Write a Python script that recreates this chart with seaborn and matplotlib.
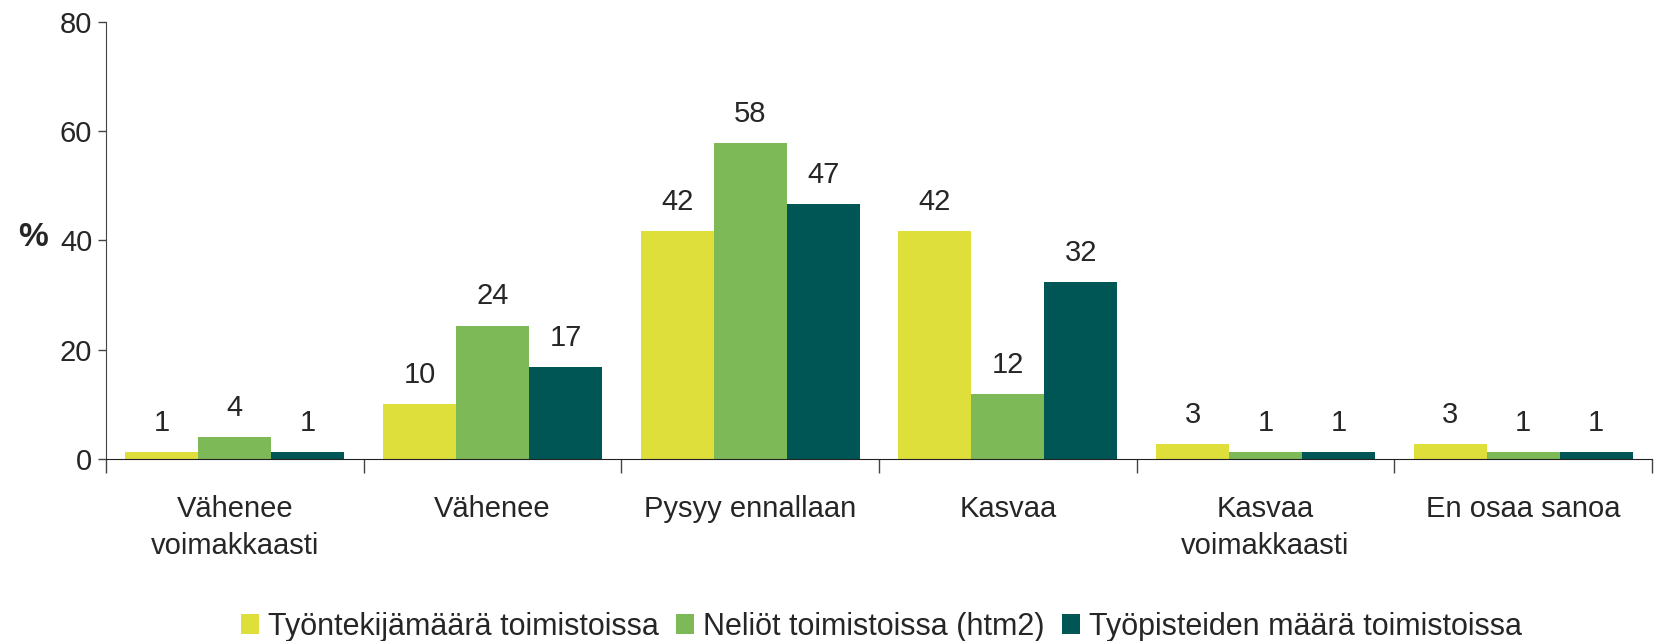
import pandas as pd
import matplotlib.pyplot as plt
import seaborn as sns
from matplotlib.ticker import FixedLocator

categories = ["Vähenee\nvoimakkaasti", "Vähenee", "Pysyy ennallaan", "Kasvaa",
              "Kasvaa\nvoimakkaasti", "En osaa sanoa"]
series = ["Työntekijämäärä toimistoissa", "Neliöt toimistoissa (htm2)",
          "Työpisteiden määrä toimistoissa"]
tyontekijat = [1.3, 10.0, 41.7, 41.7, 2.7, 2.7]
neliot = [4.0, 24.4, 57.8, 11.8, 1.3, 1.3]
tyopisteet = [1.3, 16.8, 46.6, 32.4, 1.3, 1.3]
colors = ["#dfdf3b", "#7db957", "#005555"]

df = pd.DataFrame({
    "kategoria": categories * 3,
    "sarja": [series[0]] * 6 + [series[1]] * 6 + [series[2]] * 6,
    "arvo": tyontekijat + neliot + tyopisteet,
})

sns.set_style("white")
plt.rcParams["font.family"] = ["Liberation Sans", "DejaVu Sans"]

fig = plt.figure(figsize=(16.57, 6.41), dpi=100)
ax = fig.add_axes([0.064, 0.284, 0.933, 0.682])

sns.barplot(data=df, x="kategoria", y="arvo", hue="sarja", palette=colors,
            width=0.85, saturation=1, linewidth=0, ax=ax, legend=True)

for cont in ax.containers:
    ax.bar_label(cont, fmt="%.0f", padding=11, fontsize=21)

ax.set_ylim(0, 80)
ax.set_xlim(-0.5, 5.5)
ax.set_yticks([0, 20, 40, 60, 80])
ax.tick_params(axis="y", labelsize=21, length=6, width=1, direction="out", color="#444444", left=True, pad=4)
ax.tick_params(axis="x", which="major", labelsize=21, length=0, pad=26)
ax.xaxis.set_minor_locator(FixedLocator([i - 0.5 for i in range(7)]))
ax.tick_params(axis="x", which="minor", length=10, width=1, direction="out", color="#444444", bottom=True)
for lab in ax.get_xticklabels():
    lab.set_linespacing(1.4)
ax.set_xlabel("")
ax.set_ylabel("%", fontsize=24, fontweight="bold", rotation=0)
ax.yaxis.set_label_coords(-0.047, 0.47)

for side in ["top", "right"]:
    ax.spines[side].set_visible(False)
ax.spines["left"].set_color("#444444")
ax.spines["bottom"].set_color("#222222")

handles, labels = ax.get_legend_handles_labels()
ax.get_legend().remove()
fig.legend(handles, labels, loc="center", bbox_to_anchor=(0.532, 0.022), ncol=3,
           frameon=False, fontsize=22, handlelength=0.6, handleheight=0.6,
           handletextpad=0.3, columnspacing=0.55, borderpad=0.1)

fig.savefig("out.png", dpi=100)
